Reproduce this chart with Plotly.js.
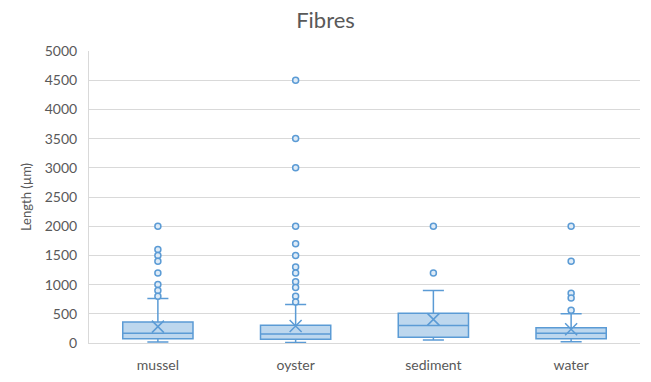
<!DOCTYPE html>
<html>
<head>
<meta charset="utf-8">
<script src="https://cdn.plot.ly/plotly-3.0.1.min.js"></script>
<style>html,body{margin:0;padding:0;background:#fff;}#chart{width:651px;height:382px;}</style>
</head>
<body>
<div id="chart"></div>
<script>
const categories = ["mussel", "oyster", "sediment", "water"];
const lowerWhisker = [17, 8, 50, 22];
const q1 = [74, 63, 100, 74];
const median = [166, 154, 300, 166];
const q3 = [360, 303, 510, 262];
const upperWhisker = [760, 660, 900, 500];
const means = [280, 290, 405, 234];
const outliersMussel = [2000, 1600, 1500, 1400, 1200, 1000, 900, 800];
const outliersOyster = [4500, 3500, 3000, 2000, 1700, 1500, 1300, 1200, 1050, 950, 800, 700];
const outliersSediment = [2000, 1200];
const outliersWater = [2000, 1400, 850, 770, 560];

const outlierSets = [outliersMussel, outliersOyster, outliersSediment, outliersWater];
const ox = [], oy = [];
outlierSets.forEach((s, i) => s.forEach(v => { ox.push(categories[i]); oy.push(v); }));

const blue = "#5B9BD5";
const font = "Lato, 'Open Sans', 'Liberation Sans', sans-serif";

const traces = [
  {
    type: "box",
    x: categories,
    q1: q1, median: median, q3: q3,
    lowerfence: lowerWhisker, upperfence: upperWhisker,
    width: 0.51,
    whiskerwidth: 0.3,
    fillcolor: "#BDD7EE",
    line: {color: blue, width: 1.5},
    boxpoints: false,
    hoverinfo: "skip",
    showlegend: false
  },
  {
    type: "scatter", mode: "markers",
    x: ox, y: oy,
    marker: {symbol: "circle", size: 6, color: "#DEEBF7", line: {color: blue, width: 1.5}},
    showlegend: false
  },
  {
    type: "scatter", mode: "markers",
    x: categories, y: means,
    marker: {symbol: "x-thin-open", size: 12, color: blue, line: {color: blue, width: 1.5}},
    showlegend: false
  }
];

const layout = {
  width: 651, height: 382,
  margin: {l: 89, r: 11, t: 51, b: 39},
  paper_bgcolor: "#fff", plot_bgcolor: "#fff",
  title: {text: "Fibres", x: 0.5, xanchor: "center", y: 0.948, yanchor: "middle",
          font: {family: font, size: 22, color: "#595959"}},
  font: {family: font, size: 14, color: "#595959"},
  xaxis: {
    type: "category", range: [-0.5, 3.5],
    showgrid: false, showline: true, linecolor: "#D9D9D9", linewidth: 1,
    ticks: "outside", ticklen: 9, tickcolor: "rgba(0,0,0,0)",
    tickfont: {size: 14, color: "#595959"}, zeroline: false
  },
  yaxis: {
    range: [0, 5000], dtick: 500, tick0: 0,
    showgrid: true, gridcolor: "#D9D9D9", gridwidth: 1,
    showline: true, linecolor: "#D9D9D9", zeroline: false,
    ticks: "outside", ticklen: 8, tickcolor: "rgba(0,0,0,0)",
    tickfont: {size: 14, color: "#595959"},
    title: {text: "Length (µm)", standoff: 10, font: {size: 13, color: "#595959"}}
  }
};

Plotly.newPlot("chart", traces, layout, {staticPlot: true, displayModeBar: false});
</script>
</body>
</html>
